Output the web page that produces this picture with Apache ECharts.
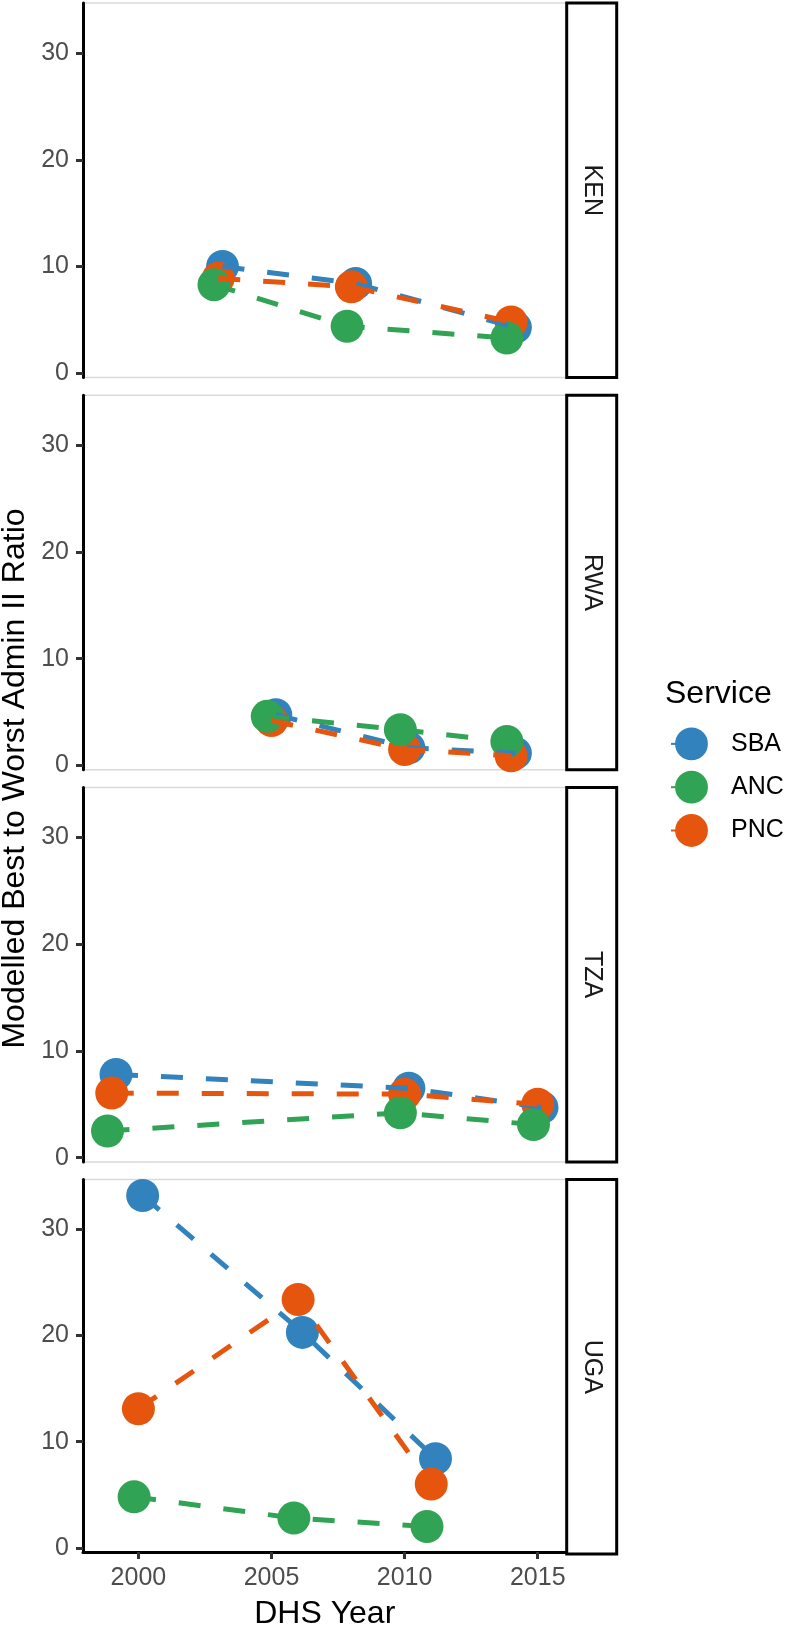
<!DOCTYPE html>
<html>
<head>
<meta charset="utf-8">
<script src="https://cdn.jsdelivr.net/npm/echarts@6/dist/echarts.min.js"></script>
<style>
  html, body { margin: 0; padding: 0; background: #fff; }
  #chart { width: 787px; height: 1631px; }
</style>
</head>
<body>
<div id="chart"></div>
<script>
// services in legend order, countries in facet order
const services = ['SBA', 'ANC', 'PNC'];
const countries = ['KEN', 'RWA', 'TZA', 'UGA'];

const kenYears = [2003, 2008, 2014];
const rwaYears = [2005, 2010, 2014];
const tzaYears = [1999, 2010, 2015];
const ugaYears = [2000, 2006, 2011];

const kenSBA = [10.0, 8.4, 4.3];
const kenANC = [8.3, 4.4, 3.3];
const kenPNC = [8.9, 8.1, 4.8];

const rwaSBA = [4.75, 1.65, 1.15];
const rwaANC = [4.6, 3.35, 2.25];
const rwaPNC = [4.2, 1.5, 0.9];

const tzaSBA = [7.8, 6.5, 4.7];
const tzaANC = [2.5, 4.2, 3.1];
const tzaPNC = [6.05, 5.95, 5.0];

const ugaSBA = [33.2, 20.3, 8.4];
const ugaANC = [4.8, 2.8, 2.0];
const ugaPNC = [13.1, 23.4, 6.0];

const yTicks = [0, 10, 20, 30];
const xTicks = [2000, 2005, 2010, 2015];

const panels = [
  { years: kenYears, SBA: kenSBA, ANC: kenANC, PNC: kenPNC },
  { years: rwaYears, SBA: rwaSBA, ANC: rwaANC, PNC: rwaPNC },
  { years: tzaYears, SBA: tzaSBA, ANC: tzaANC, PNC: tzaPNC },
  { years: ugaYears, SBA: ugaSBA, ANC: ugaANC, PNC: ugaPNC }
];

const colors = { SBA: '#3182bd', ANC: '#31a354', PNC: '#e6550d' };
// position_dodge offsets as seen in the plot
const dodge = { SBA: 0.16, ANC: -0.16, PNC: 0 };
// draw order of the points: ANC ends on top
const pointOrder = ['SBA', 'PNC', 'ANC'];

const font = '"Liberation Sans", Arial, sans-serif';
const gridLeft = 83;
const gridRight = 220.5;
const gridHeight = 374.5;
const gridTops = [3, 395.2, 787.4, 1179.6];
const stripX = 566.7;
const stripW = 50;

const grids = [];
const xAxes = [];
const yAxes = [];
const series = [];
const graphics = [];

panels.forEach((p, i) => {
  const last = i === panels.length - 1;
  grids.push({
    left: gridLeft, right: gridRight, top: gridTops[i], height: gridHeight,
    show: true, borderColor: '#d9d9d9', borderWidth: 1.5, backgroundColor: '#fff'
  });
  xAxes.push({
    type: 'value', gridIndex: i, min: 1997.92, max: 2016.08,
    name: last ? 'DHS Year' : '',
    nameLocation: 'middle', nameGap: 46,
    nameTextStyle: { fontSize: 32, color: '#000', fontFamily: font },
    axisLine: { show: last, onZero: false, lineStyle: { color: '#000', width: 3 } },
    axisTick: { show: last, length: 7, customValues: xTicks, lineStyle: { color: '#333', width: 3 } },
    axisLabel: {
      show: last, customValues: xTicks, fontSize: 25, color: '#4d4d4d', margin: 14, fontFamily: font,
      formatter: v => String(v)
    },
    splitLine: { show: false }
  });
  yAxes.push({
    type: 'value', gridIndex: i, min: -0.4, max: 34.7,
    axisLine: { show: true, lineStyle: { color: '#000', width: 3 } },
    axisTick: { show: true, length: 7, customValues: yTicks, lineStyle: { color: '#333', width: 3 } },
    axisLabel: { customValues: yTicks, fontSize: 25, color: '#4d4d4d', margin: 14, fontFamily: font },
    splitLine: { show: false }
  });
});

// lines first, so every point sits above every line
panels.forEach((p, i) => {
  services.forEach(s => {
    series.push({
      name: s, type: 'line', xAxisIndex: i, yAxisIndex: i,
      symbol: 'circle', showSymbol: false, symbolSize: 33,
      color: colors[s],
      lineStyle: { color: colors[s], width: 5, type: [22, 23] },
      data: p.years.map((y, k) => [y + dodge[s], p[s][k]])
    });
  });
});
panels.forEach((p, i) => {
  pointOrder.forEach(s => {
    series.push({
      name: s, type: 'scatter', xAxisIndex: i, yAxisIndex: i,
      symbol: 'circle', symbolSize: 33,
      itemStyle: { color: colors[s], opacity: 1 },
      data: p.years.map((y, k) => [y + dodge[s], p[s][k]])
    });
  });

  // facet strip on the right
  graphics.push({
    type: 'rect',
    shape: { x: stripX, y: gridTops[i], width: stripW, height: gridHeight },
    style: { fill: '#fff', stroke: '#000', lineWidth: 3 }
  });
  graphics.push({
    type: 'text',
    x: stripX + stripW / 2, y: gridTops[i] + gridHeight / 2,
    rotation: -Math.PI / 2,
    style: {
      text: countries[i], fill: '#1a1a1a', font: '25px ' + font,
      align: 'center', verticalAlign: 'middle'
    }
  });
});

graphics.push({
  type: 'text',
  x: 15, y: 778.5,
  rotation: Math.PI / 2,
  style: {
    text: 'Modelled Best to Worst Admin II Ratio', fill: '#000', font: '32px ' + font,
    align: 'center', verticalAlign: 'middle'
  }
});

const chart = echarts.init(document.getElementById('chart'));
chart.setOption({
  animation: false,
  backgroundColor: '#fff',
  title: {
    text: 'Service', left: 665, top: 678, padding: 0,
    textStyle: { fontSize: 32, fontWeight: 'normal', color: '#000', fontFamily: font }
  },
  legend: {
    orient: 'vertical', left: 670, top: 727.5, padding: 0,
    data: services,
    itemWidth: 41, itemHeight: 41, itemGap: 10.5,
    itemStyle: { borderWidth: 0 },
    textStyle: { fontSize: 25, color: '#000', fontFamily: font, padding: [0, 0, 0, 14] },
    selectedMode: false
  },
  grid: grids,
  xAxis: xAxes,
  yAxis: yAxes,
  series: series,
  graphic: graphics
});
</script>
</body>
</html>
